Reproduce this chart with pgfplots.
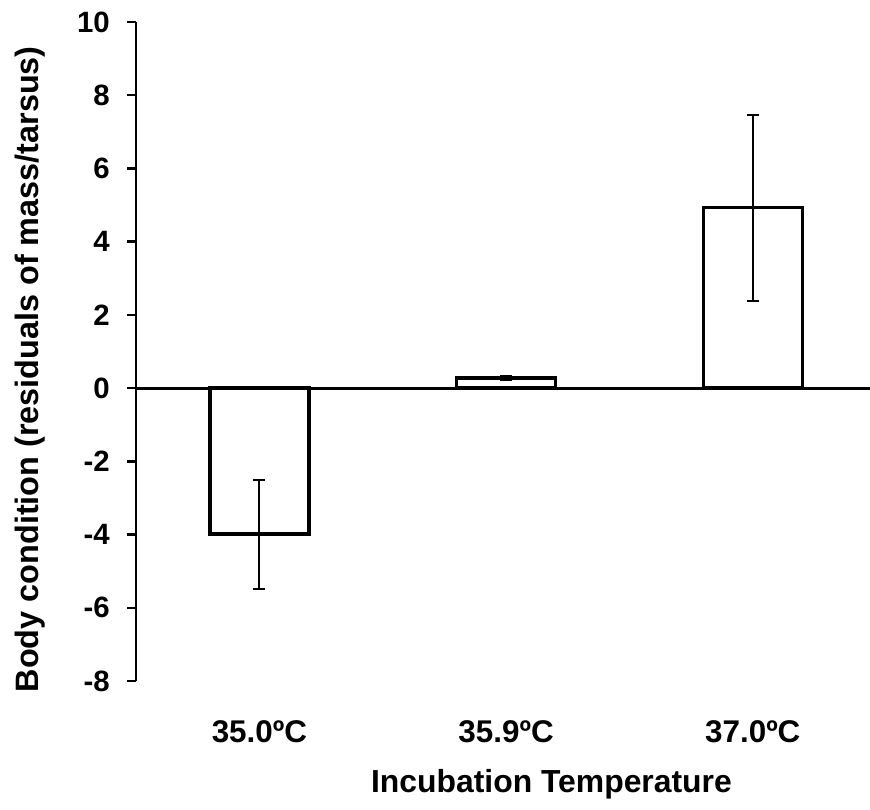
\documentclass[border=0pt]{standalone}
\usepackage{fontspec}
\setmainfont{Liberation Sans}
\usepackage{pgfplots}
\pgfplotsset{compat=1.18}
\begin{document}
\begin{tikzpicture}
\useasboundingbox (0,0) rectangle (870bp,810bp);
\begin{axis}[
  at={(136bp,129bp)}, anchor=south west,
  scale only axis, width=734bp, height=659bp,
  xmin=-0.5, xmax=2.475, ymin=-8, ymax=10,
  axis x line=bottom, axis y line=left,
  x axis line style={draw=none},
  y axis line style={-, line width=2.7bp},
  tick align=outside,
  major tick length=9bp,
  ytick={-8,-6,...,10},
  ytick style={line width=2.5bp, black},
  xtick={0,1,2},
  xticklabels={35.0ºC,35.9ºC,37.0ºC},
  xtick style={draw=none},
  /pgf/number format/assume math mode=true,
  yticklabel style={font=\fontsize{29.5}{34}\selectfont\bfseries, anchor=east, inner sep=0pt, xshift=-17bp},
  xticklabel style={font=\fontsize{31.5}{36}\selectfont\bfseries, anchor=center, yshift=-42bp},
  xlabel={Incubation Temperature},
  ylabel={Body condition (residuals of mass/tarsus)},
  xlabel style={font=\fontsize{32}{37}\selectfont\bfseries, at={(axis description cs:0.566,0)}, anchor=center, yshift=-103bp},
  ylabel style={font=\fontsize{32.5}{37}\selectfont\bfseries, at={(axis description cs:-0.1444,0.473)}, anchor=center},
  clip=false,
]
\addplot[ybar, bar width=99bp, fill=white, draw=black, line width=3.5bp,
  error bars/.cd, y dir=both, y explicit,
  error bar style={line width=2.2bp, black},
  error mark options={rotate=90, line width=2.2bp, black, mark size=6bp}]
  table[x=x, y=y, y error=e] {
x y e
0 -3.99 1.49
1 0.27 0.05
2 4.93 2.54
};
\addplot[black, line width=3bp, forget plot] coordinates {(-0.5,0) (2.475,0)};
\end{axis}
\end{tikzpicture}
\end{document}
